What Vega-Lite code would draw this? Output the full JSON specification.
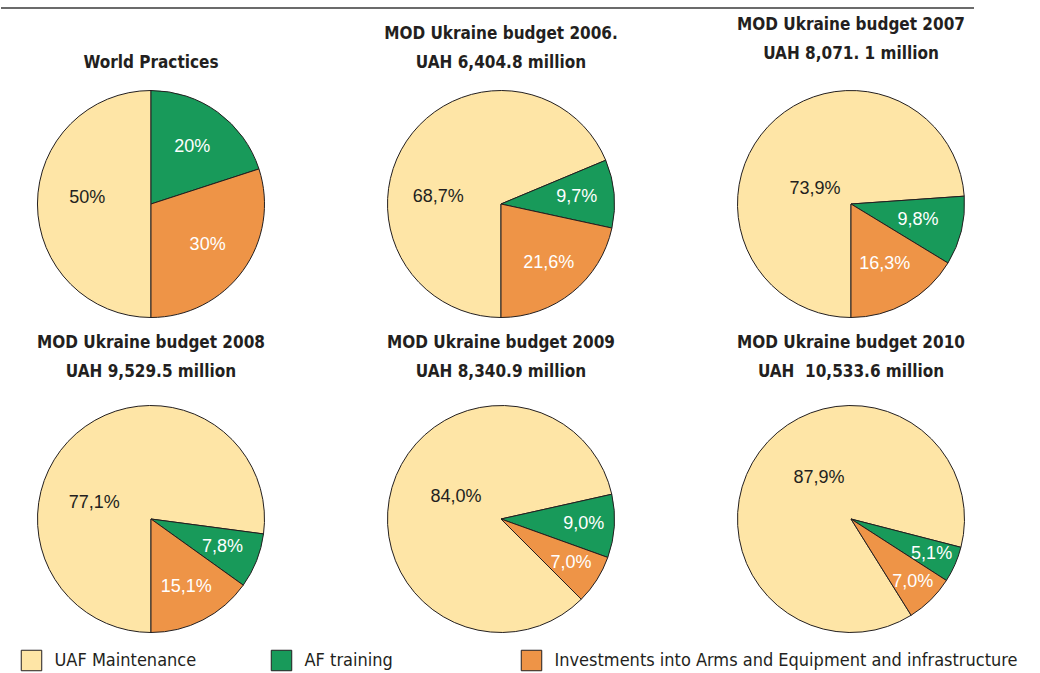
{
  "$schema": "https://vega.github.io/schema/vega-lite/v6.json",
  "background": "white",
  "padding": {"left": 0, "top": 7, "right": 0, "bottom": 0},
  "datasets": {
    "pies": [
      {"chart": "WP", "category": "UAF Maintenance", "share": 0.5},
      {"chart": "WP", "category": "AF training", "share": 0.2},
      {"chart": "WP", "category": "Investments into Arms and Equipment and infrastructure", "share": 0.3},
      {"chart": "2006", "category": "UAF Maintenance", "share": 0.687},
      {"chart": "2006", "category": "AF training", "share": 0.097},
      {"chart": "2006", "category": "Investments into Arms and Equipment and infrastructure", "share": 0.216},
      {"chart": "2007", "category": "UAF Maintenance", "share": 0.739},
      {"chart": "2007", "category": "AF training", "share": 0.098},
      {"chart": "2007", "category": "Investments into Arms and Equipment and infrastructure", "share": 0.163},
      {"chart": "2008", "category": "UAF Maintenance", "share": 0.771},
      {"chart": "2008", "category": "AF training", "share": 0.078},
      {"chart": "2008", "category": "Investments into Arms and Equipment and infrastructure", "share": 0.151},
      {"chart": "2009", "category": "UAF Maintenance", "share": 0.84},
      {"chart": "2009", "category": "AF training", "share": 0.09},
      {"chart": "2009", "category": "Investments into Arms and Equipment and infrastructure", "share": 0.07},
      {"chart": "2010", "category": "UAF Maintenance", "share": 0.879},
      {"chart": "2010", "category": "AF training", "share": 0.051},
      {"chart": "2010", "category": "Investments into Arms and Equipment and infrastructure", "share": 0.07}
    ],
    "legend": [
      {"category": "UAF Maintenance"},
      {"category": "AF training"},
      {"category": "Investments into Arms and Equipment and infrastructure"}
    ],
    "line": [{"edge": "top"}]
  },
  "data": {"name": "pies"},
  "spacing": 6,
  "vconcat": [
    {
      "data": {"name": "line"},
      "width": 973,
      "height": 1,
      "mark": {"type": "rule", "stroke": "#3a3a3a", "strokeWidth": 1.3},
      "encoding": {"y": {"datum": 1, "type": "quantitative", "axis": null, "scale": {"domain": [0, 1]}}}
    },
    {
      "spacing": 12.5,
      "vconcat": [
        {
          "bounds": "flush",
          "columns": 3,
          "spacing": {"row": 87, "column": 50},
          "concat": [
            {
              "title": {"text": "World Practices", "offset": 17},
              "width": 300, "height": 228,
              "transform": [{"filter": "datum.chart === 'WP'"}],
              "encoding": {"theta": {"field": "share", "type": "quantitative", "stack": true, "scale": {"domain": [0, 1], "range": [0, 6.2832]}}},
              "layer": [
                {"mark": {"type": "arc", "radius": 113.5, "stroke": "#231F20", "strokeWidth": 1},
                 "encoding": {"color": {"field": "category", "type": "nominal", "legend": null, "scale": {"domain": ["AF training", "Investments into Arms and Equipment and infrastructure", "UAF Maintenance"], "range": ["#189A5A", "#EE9447", "#FEE5A6"]}}}},
                {"mark": {"type": "text", "radius": 64, "thetaOffset": 0.087, "font": "Liberation Sans", "fontSize": 18},
                 "encoding": {"text": {"condition": {"test": "datum.category === 'UAF Maintenance'", "field": "share", "type": "quantitative", "format": ".0%"}, "value": ""},
                              "color": {"field": "category", "type": "nominal", "legend": null, "scale": {"domain": ["AF training", "Investments into Arms and Equipment and infrastructure", "UAF Maintenance"], "range": ["#FFFFFF", "#FFFFFF", "#231F20"]}}}},
                {"mark": {"type": "text", "radius": 70, "font": "Liberation Sans", "fontSize": 18},
                 "encoding": {"text": {"condition": {"test": "datum.category !== 'UAF Maintenance'", "field": "share", "type": "quantitative", "format": ".0%"}, "value": ""},
                              "color": {"field": "category", "type": "nominal", "legend": null, "scale": {"domain": ["AF training", "Investments into Arms and Equipment and infrastructure", "UAF Maintenance"], "range": ["#FFFFFF", "#FFFFFF", "#231F20"]}}}}
              ],
              "resolve": {"scale": {"color": "independent"}}
            },
            {
              "title": {"text": ["MOD Ukraine budget 2006.", "UAH 6,404.8 million"], "offset": 17},
              "width": 300, "height": 228,
              "transform": [{"filter": "datum.chart === '2006'"}],
              "encoding": {"theta": {"field": "share", "type": "quantitative", "stack": true, "scale": {"domain": [0, 1], "range": [1.1749, 7.4581]}}},
              "layer": [
                {"mark": {"type": "arc", "radius": 113.5, "stroke": "#231F20", "strokeWidth": 1},
                 "encoding": {"color": {"field": "category", "type": "nominal", "legend": null, "scale": {"domain": ["AF training", "Investments into Arms and Equipment and infrastructure", "UAF Maintenance"], "range": ["#189A5A", "#EE9447", "#FEE5A6"]}}}},
                {"mark": {"type": "text", "radius": 63, "thetaOffset": -0.483, "font": "Liberation Sans", "fontSize": 18},
                 "encoding": {"text": {"condition": {"test": "datum.category === 'UAF Maintenance'", "field": "share", "type": "quantitative", "format": ".1%"}, "value": ""},
                              "color": {"field": "category", "type": "nominal", "legend": null, "scale": {"domain": ["AF training", "Investments into Arms and Equipment and infrastructure", "UAF Maintenance"], "range": ["#FFFFFF", "#FFFFFF", "#231F20"]}}}},
                {"mark": {"type": "text", "radius": 76, "font": "Liberation Sans", "fontSize": 18},
                 "encoding": {"text": {"condition": {"test": "datum.category !== 'UAF Maintenance'", "field": "share", "type": "quantitative", "format": ".1%"}, "value": ""},
                              "color": {"field": "category", "type": "nominal", "legend": null, "scale": {"domain": ["AF training", "Investments into Arms and Equipment and infrastructure", "UAF Maintenance"], "range": ["#FFFFFF", "#FFFFFF", "#231F20"]}}}}
              ],
              "resolve": {"scale": {"color": "independent"}}
            },
            {
              "title": {"text": ["MOD Ukraine budget 2007", "UAH 8,071. 1 million"], "offset": 26},
              "width": 300, "height": 228,
              "transform": [{"filter": "datum.chart === '2007'"}],
              "encoding": {"theta": {"field": "share", "type": "quantitative", "stack": true, "scale": {"domain": [0, 1], "range": [1.5017, 7.7849]}}},
              "layer": [
                {"mark": {"type": "arc", "radius": 113.5, "stroke": "#231F20", "strokeWidth": 1},
                 "encoding": {"color": {"field": "category", "type": "nominal", "legend": null, "scale": {"domain": ["AF training", "Investments into Arms and Equipment and infrastructure", "UAF Maintenance"], "range": ["#189A5A", "#EE9447", "#FEE5A6"]}}}},
                {"mark": {"type": "text", "radius": 39, "thetaOffset": -0.356, "font": "Liberation Sans", "fontSize": 18},
                 "encoding": {"text": {"condition": {"test": "datum.category === 'UAF Maintenance'", "field": "share", "type": "quantitative", "format": ".1%"}, "value": ""},
                              "color": {"field": "category", "type": "nominal", "legend": null, "scale": {"domain": ["AF training", "Investments into Arms and Equipment and infrastructure", "UAF Maintenance"], "range": ["#FFFFFF", "#FFFFFF", "#231F20"]}}}},
                {"mark": {"type": "text", "radius": 69, "font": "Liberation Sans", "fontSize": 18},
                 "encoding": {"text": {"condition": {"test": "datum.category !== 'UAF Maintenance'", "field": "share", "type": "quantitative", "format": ".1%"}, "value": ""},
                              "color": {"field": "category", "type": "nominal", "legend": null, "scale": {"domain": ["AF training", "Investments into Arms and Equipment and infrastructure", "UAF Maintenance"], "range": ["#FFFFFF", "#FFFFFF", "#231F20"]}}}}
              ],
              "resolve": {"scale": {"color": "independent"}}
            },
            {
              "title": {"text": ["MOD Ukraine budget 2008", "UAH 9,529.5 million"], "offset": 23},
              "width": 300, "height": 228,
              "transform": [{"filter": "datum.chart === '2008'"}],
              "encoding": {"theta": {"field": "share", "type": "quantitative", "stack": true, "scale": {"domain": [0, 1], "range": [1.7028, 7.986]}}},
              "layer": [
                {"mark": {"type": "arc", "radius": 113.5, "stroke": "#231F20", "strokeWidth": 1},
                 "encoding": {"color": {"field": "category", "type": "nominal", "legend": null, "scale": {"domain": ["AF training", "Investments into Arms and Equipment and infrastructure", "UAF Maintenance"], "range": ["#189A5A", "#EE9447", "#FEE5A6"]}}}},
                {"mark": {"type": "text", "radius": 59, "thetaOffset": -0.578, "font": "Liberation Sans", "fontSize": 18},
                 "encoding": {"text": {"condition": {"test": "datum.category === 'UAF Maintenance'", "field": "share", "type": "quantitative", "format": ".1%"}, "value": ""},
                              "color": {"field": "category", "type": "nominal", "legend": null, "scale": {"domain": ["AF training", "Investments into Arms and Equipment and infrastructure", "UAF Maintenance"], "range": ["#FFFFFF", "#FFFFFF", "#231F20"]}}}},
                {"mark": {"type": "text", "radius": 77, "font": "Liberation Sans", "fontSize": 18},
                 "encoding": {"text": {"condition": {"test": "datum.category !== 'UAF Maintenance'", "field": "share", "type": "quantitative", "format": ".1%"}, "value": ""},
                              "color": {"field": "category", "type": "nominal", "legend": null, "scale": {"domain": ["AF training", "Investments into Arms and Equipment and infrastructure", "UAF Maintenance"], "range": ["#FFFFFF", "#FFFFFF", "#231F20"]}}}}
              ],
              "resolve": {"scale": {"color": "independent"}}
            },
            {
              "title": {"text": ["MOD Ukraine budget 2009", "UAH 8,340.9 million"], "offset": 23},
              "width": 300, "height": 228,
              "transform": [{"filter": "datum.chart === '2009'"}],
              "encoding": {"theta": {"field": "share", "type": "quantitative", "stack": true, "scale": {"domain": [0, 1], "range": [1.3509, 7.6341]}}},
              "layer": [
                {"mark": {"type": "arc", "radius": 113.5, "stroke": "#231F20", "strokeWidth": 1},
                 "encoding": {"color": {"field": "category", "type": "nominal", "legend": null, "scale": {"domain": ["AF training", "Investments into Arms and Equipment and infrastructure", "UAF Maintenance"], "range": ["#189A5A", "#EE9447", "#FEE5A6"]}}}},
                {"mark": {"type": "text", "radius": 50, "thetaOffset": 0.171, "font": "Liberation Sans", "fontSize": 18},
                 "encoding": {"text": {"condition": {"test": "datum.category === 'UAF Maintenance'", "field": "share", "type": "quantitative", "format": ".1%"}, "value": ""},
                              "color": {"field": "category", "type": "nominal", "legend": null, "scale": {"domain": ["AF training", "Investments into Arms and Equipment and infrastructure", "UAF Maintenance"], "range": ["#FFFFFF", "#FFFFFF", "#231F20"]}}}},
                {"mark": {"type": "text", "radius": 83, "font": "Liberation Sans", "fontSize": 18},
                 "encoding": {"text": {"condition": {"test": "datum.category !== 'UAF Maintenance'", "field": "share", "type": "quantitative", "format": ".1%"}, "value": ""},
                              "color": {"field": "category", "type": "nominal", "legend": null, "scale": {"domain": ["AF training", "Investments into Arms and Equipment and infrastructure", "UAF Maintenance"], "range": ["#FFFFFF", "#FFFFFF", "#231F20"]}}}}
              ],
              "resolve": {"scale": {"color": "independent"}}
            },
            {
              "title": {"text": ["MOD Ukraine budget 2010", "UAH \u00a010,533.6 million"], "offset": 23},
              "width": 300, "height": 228,
              "transform": [{"filter": "datum.chart === '2010'"}],
              "encoding": {"theta": {"field": "share", "type": "quantitative", "stack": true, "scale": {"domain": [0, 1], "range": [1.8228, 8.106]}}},
              "layer": [
                {"mark": {"type": "arc", "radius": 113.5, "stroke": "#231F20", "strokeWidth": 1},
                 "encoding": {"color": {"field": "category", "type": "nominal", "legend": null, "scale": {"domain": ["AF training", "Investments into Arms and Equipment and infrastructure", "UAF Maintenance"], "range": ["#189A5A", "#EE9447", "#FEE5A6"]}}}},
                {"mark": {"type": "text", "radius": 52, "thetaOffset": 0.276, "font": "Liberation Sans", "fontSize": 18},
                 "encoding": {"text": {"condition": {"test": "datum.category === 'UAF Maintenance'", "field": "share", "type": "quantitative", "format": ".1%"}, "value": ""},
                              "color": {"field": "category", "type": "nominal", "legend": null, "scale": {"domain": ["AF training", "Investments into Arms and Equipment and infrastructure", "UAF Maintenance"], "range": ["#FFFFFF", "#FFFFFF", "#231F20"]}}}},
                {"mark": {"type": "text", "radius": 88, "font": "Liberation Sans", "fontSize": 18},
                 "encoding": {"text": {"condition": {"test": "datum.category !== 'UAF Maintenance'", "field": "share", "type": "quantitative", "format": ".1%"}, "value": ""},
                              "color": {"field": "category", "type": "nominal", "legend": null, "scale": {"domain": ["AF training", "Investments into Arms and Equipment and infrastructure", "UAF Maintenance"], "range": ["#FFFFFF", "#FFFFFF", "#231F20"]}}}}
              ],
              "resolve": {"scale": {"color": "independent"}}
            }
          ]
        },
        {
          "data": {"name": "legend"},
          "width": 561,
          "height": 24,
          "encoding": {
            "x": {"field": "category", "type": "nominal", "axis": null, "scale": {"type": "point", "padding": 0.122, "domain": ["UAF Maintenance", "AF training", "Investments into Arms and Equipment and infrastructure"]}}
          },
          "layer": [
            {"mark": {"type": "point", "shape": "square", "size": 420, "filled": true, "opacity": 1, "stroke": "#231F20", "strokeWidth": 1},
             "encoding": {"color": {"field": "category", "type": "nominal", "legend": null, "scale": {"domain": ["AF training", "Investments into Arms and Equipment and infrastructure", "UAF Maintenance"], "range": ["#189A5A", "#EE9447", "#FEE5A6"]}}}},
            {"mark": {"type": "text", "align": "left", "baseline": "middle", "dx": 23, "font": "DejaVu Sans Condensed, DejaVu Sans, sans-serif", "fontSize": 18, "color": "#231F20"},
             "encoding": {"text": {"field": "category", "type": "nominal"}}}
          ]
        }
      ]
    }
  ],
  "config": {
    "view": {"stroke": null},
    "locale": {"number": {"decimal": ",", "thousands": ".", "grouping": [3], "currency": ["", ""]}},
    "title": {"font": "DejaVu Sans Condensed, DejaVu Sans, sans-serif", "fontSize": 17, "fontWeight": "bold", "color": "#231F20", "lineHeight": 29, "baseline": "bottom", "anchor": "middle"}
  }
}
